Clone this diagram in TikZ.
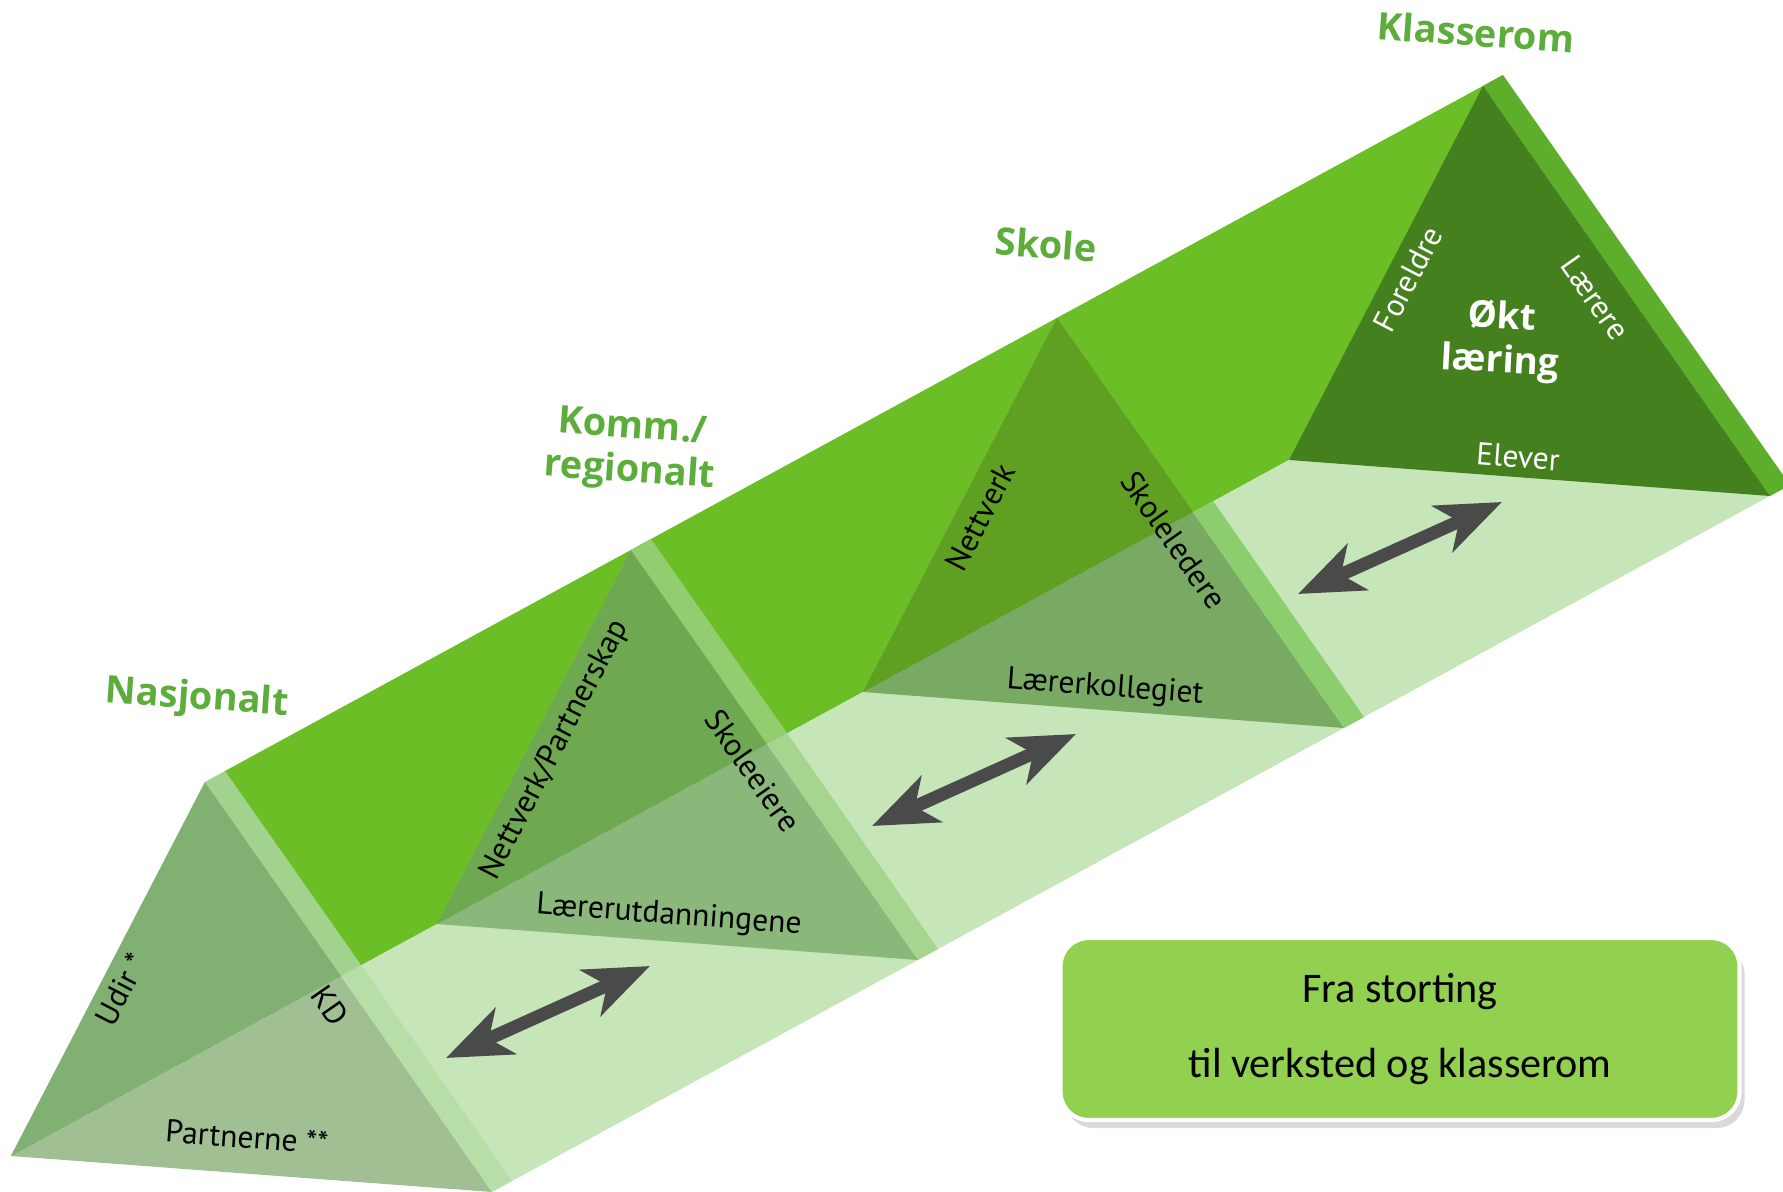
\documentclass[tikz,border=0pt]{standalone}
\usepackage{fontspec}
\setmainfont{PT Sans}
\newfontfamily\headfont{Open Sans}
\newfontfamily\boxfont{Carlito}
\usetikzlibrary{arrows.meta,shadows}

\definecolor{topface}{HTML}{6CBE26}
\definecolor{botface}{HTML}{C6E5B8}
\definecolor{tAup}{HTML}{80B172}
\definecolor{tAlow}{HTML}{A0BF93}
\definecolor{tAsup}{HTML}{A2D38E}
\definecolor{tAslow}{HTML}{B8DEA8}
\definecolor{tBup}{HTML}{6EA850}
\definecolor{tBlow}{HTML}{8AB77A}
\definecolor{tBsup}{HTML}{92CD70}
\definecolor{tBslow}{HTML}{A6D58F}
\definecolor{tCup}{HTML}{5FA023}
\definecolor{tClow}{HTML}{78AA64}
\definecolor{tCslow}{HTML}{8CCD6E}
\definecolor{tD}{HTML}{44801E}
\definecolor{tDstrip}{HTML}{5DAE2A}
\definecolor{arrowgray}{HTML}{4A4A4A}
\definecolor{headgreen}{HTML}{5DAD3C}
\definecolor{boxgreen}{HTML}{92D050}

\tikzset{
  lvlname/.style={font=\headfont\bfseries\fontsize{10.8}{12.5}\selectfont, text=headgreen, align=center, rotate=-4, inner sep=0pt},
  lbl/.style={font=\fontsize{9}{10}\selectfont, text=black, inner sep=0pt},
  wlbl/.style={lbl, text=white},
  link/.style={draw=arrowgray, line width=3.7pt,
    {Stealth[length=6.5mm,width=5mm,inset=1.8mm]}-{Stealth[length=6.5mm,width=5mm,inset=1.8mm]}}
}

\begin{document}
\begin{tikzpicture}[x=0.1mm, y=-0.1mm]

\useasboundingbox (0,0) rectangle (1783,1192);

% ===============================================================
% Prism faces
% ===============================================================

% top face
\fill[topface] (225,771) -- (1503,75) -- (1289,460) -- (11,1156) -- cycle;

% bottom face
\fill[botface] (11,1156) -- (1289,460) -- (1790,485) -- (512,1181) -- cycle;

% ===============================================================
% Triangles
% ===============================================================

% Nasjonalt
\fill[tAlow] (205,782) -- (11,1156) -- (492,1192) -- cycle;
\fill[tAup]  (205,782) -- (11,1156) -- (341,976) -- cycle;
\fill[tAsup]  (205,782) -- (225,771) -- (361,965) -- (341,976) -- cycle;
\fill[tAslow] (341,976) -- (361,965) -- (512,1181) -- (492,1192) -- cycle;

% Komm./regionalt
\fill[tBlow] (631,550) -- (437,924) -- (918,960) -- cycle;
\fill[tBup]  (631,550) -- (437,924) -- (767,744) -- cycle;
\fill[tBsup]  (631,550) -- (651,539) -- (787,733) -- (767,744) -- cycle;
\fill[tBslow] (767,744) -- (787,733) -- (938,949) -- (918,960) -- cycle;

% Skole
\fill[tClow] (1057,318) -- (863,692) -- (1344,728) -- cycle;
\fill[tCup]  (1057,318) -- (863,692) -- (1193,512) -- cycle;
\fill[tCslow] (1193,512) -- (1213,501) -- (1364,717) -- (1344,728) -- cycle;

% Klasserom
\fill[tDstrip] (1483,86) -- (1503,75) -- (1790,485) -- (1770,496) -- cycle;
\fill[tD] (1483,86) -- (1289,460) -- (1770,496) -- cycle;

% ===============================================================
% Arrows between levels
% ===============================================================

\coordinate (a1s) at (446,1058);
\coordinate (a1e) at (650,966);
\coordinate (a2s) at (872,826);
\coordinate (a2e) at (1076,734);
\coordinate (a3s) at (1298,594);
\coordinate (a3e) at (1502,502);

\draw[link] (a1s) -- (a1e);
\draw[link] (a2s) -- (a2e);
\draw[link] (a3s) -- (a3e);

% ===============================================================
% Level names
% ===============================================================

\node[lvlname] (lnas)    at (197,699)  {Nasjonalt};
\node[lvlname] (lkomm)   at (631,451)  {Komm./\\regionalt};
\node[lvlname] (lskole)  at (1046,244) {Skole};
\node[lvlname] (lklasse) at (1476,32)  {Klasserom};

% ===============================================================
% Labels in the triangles
% ===============================================================

\node[lbl, rotate=62.6] (udir)      at (121,989)  {Udir *};
\node[lbl, rotate=-55]  (kd)        at (330,1006) {KD};
\node[lbl, rotate=-4.3] (partnerne) at (247,1137) {Partnerne **};

\node[lbl, rotate=62.6] (nettpart)   at (555,750) {Nettverk/Partnerskap};
\node[lbl, rotate=-55]  (skoleeiere) at (753,771) {Skoleeiere};
\node[lbl, rotate=-4.3] (laererutd)  at (669,916) {Lærerutdanningene};

\node[lbl, rotate=62.6] (nettverk)    at (980,517)  {Nettverk};
\node[lbl, rotate=-55]  (skoleledere) at (1174,540) {Skoleledere};
\node[lbl, rotate=-4.3] (kollegiet)   at (1105,688) {Lærerkollegiet};

\node[wlbl, rotate=62.6] (foreldre) at (1408,279) {Foreldre};
\node[wlbl, rotate=-55]  (laerere)  at (1595,298) {Lærere};
\node[wlbl, rotate=-4.3] (elever)   at (1518,457) {Elever};
\node[font=\headfont\bfseries\fontsize{10.5}{12.5}\selectfont, text=white, align=center, rotate=-3, inner sep=0pt]
  (okt) at (1501,341) {Økt\\læring};

% ===============================================================
% Motto box
% ===============================================================

\node[fill=boxgreen, draw=white, line width=1.2pt, rounded corners=2.8mm,
      minimum width=67.9mm, minimum height=18.2mm, align=center,
      drop shadow={shadow xshift=0.5mm, shadow yshift=-0.8mm, opacity=0.3},
      font=\boxfont\fontsize{12}{21.6}\selectfont]
  (motto) at (1400,1029) {Fra storting\\til verksted og klasserom};

\end{tikzpicture}
\end{document}
